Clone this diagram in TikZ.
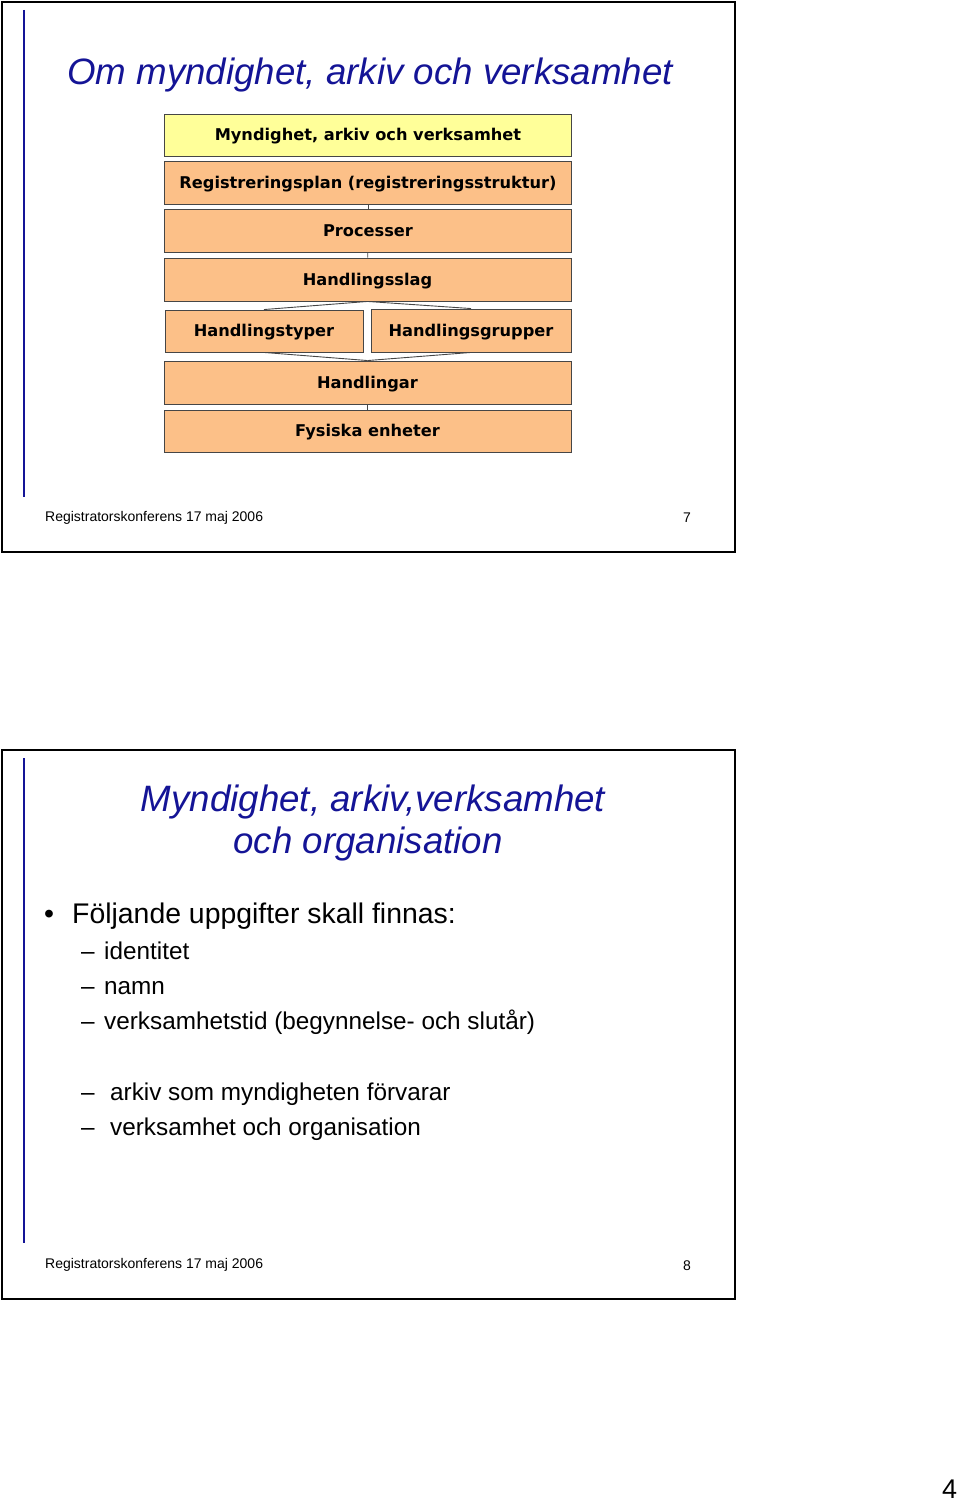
\documentclass[tikz,border=0pt]{standalone}
\usepackage{fontspec}
\setmainfont{Liberation Sans}
\newfontfamily\boxfont{DejaVu Sans}
\usetikzlibrary{positioning}
\definecolor{titleblue}{RGB}{20,20,150}
\definecolor{boxyellow}{RGB}{255,255,153}
\definecolor{boxorange}{RGB}{252,192,136}
\definecolor{boxline}{RGB}{70,70,70}

\begin{document}
\begin{tikzpicture}[x=1pt, y=-1pt,
  lvl/.style={draw=boxline, line width=0.9pt, fill=boxorange, inner sep=0pt,
    minimum width=407pt, minimum height=43pt, text height=15pt, text depth=3.3pt,
    font=\boxfont\bfseries\fontsize{16.2}{18}\selectfont},
  half/.style={lvl, minimum width=199pt},
  link/.style={draw=boxline, line width=0.9pt},
  slide/.style={draw=black, line width=2pt},
  bar/.style={draw=titleblue, line width=2pt},
  title/.style={text=titleblue, inner sep=0pt, font=\itshape\fontsize{36.7}{44}\selectfont},
  foot/.style={anchor=base west, inner sep=0pt, font=\fontsize{14}{16}\selectfont},
  item/.style={anchor=base west, inner sep=0pt, font=\fontsize{24.3}{28}\selectfont}]
\useasboundingbox (0,0) rectangle (960,1501);

% slide 7
\draw[slide] (2,2) rectangle (735,552);
\draw[bar] (24,10) -- (24,497);
\node[title, anchor=base west] (t7) at (67,85) {Om myndighet, arkiv och verksamhet};

\node[lvl, fill=boxyellow, minimum height=42pt] (mav) at (368,135) {Myndighet, arkiv och verksamhet};
\node[lvl] (reg) at (368,182.5) {Registreringsplan (registreringsstruktur)};
\node[lvl] (proc) at (368,230.5) {Processer};
\node[lvl] (slag) at (367.5,279.5) {Handlingsslag};
\node[half, minimum width=198pt, minimum height=42pt] (typ) at (264,331) {Handlingstyper};
\node[half, minimum width=200pt] (grp) at (471,330.5) {Handlingsgrupper};
\node[lvl] (hand) at (367.5,382.5) {Handlingar};
\node[lvl, minimum height=42pt] (fys) at (367.5,431) {Fysiska enheter};

\draw[link] (reg) -- (proc);
\draw[link] (proc) -- (slag);
\draw[link] (slag.south) -- (typ.north);
\draw[link] (slag.south) -- (grp.north);
\draw[link] (typ.south) -- (hand.north);
\draw[link] (grp.south) -- (hand.north);
\draw[link] (hand) -- (fys);

\node[foot] (f7) at (45,521) {Registratorskonferens 17 maj 2006};
\node[foot] (n7) at (683,522) {7};

% slide 8
\draw[slide] (2,750) rectangle (735,1299);
\draw[bar] (24,758) -- (24,1243);
\node[title, anchor=base] (t8a) at (373,811) {Myndighet, arkiv,verksamhet};
\node[title, anchor=base] (t8b) at (368,853) {och organisation};

\node[anchor=base west, inner sep=0pt, font=\fontsize{28.4}{32}\selectfont] (b1) at (44,923) {•};
\node[anchor=base west, inner sep=0pt, font=\fontsize{28.4}{32}\selectfont] (b1t) at (72,923) {Följande uppgifter skall finnas:};

\node[item] (d1) at (81,959) {–};
\node[item] (i1) at (104,959) {identitet};
\node[item] (d2) at (81,994) {–};
\node[item] (i2) at (104,994) {namn};
\node[item] (d3) at (81,1029) {–};
\node[item] (i3) at (104,1029) {verksamhetstid (begynnelse- och slutår)};
\node[item] (d4) at (81,1100) {–};
\node[item] (i4) at (110,1100) {arkiv som myndigheten förvarar};
\node[item] (d5) at (81,1135) {–};
\node[item] (i5) at (110,1135) {verksamhet och organisation};

\node[foot] (f8) at (45,1268) {Registratorskonferens 17 maj 2006};
\node[foot] (n8) at (683,1270) {8};

\node[anchor=base west, inner sep=0pt, font=\fontsize{27}{30}\selectfont] (pg) at (942,1498) {4};
\end{tikzpicture}
\end{document}
